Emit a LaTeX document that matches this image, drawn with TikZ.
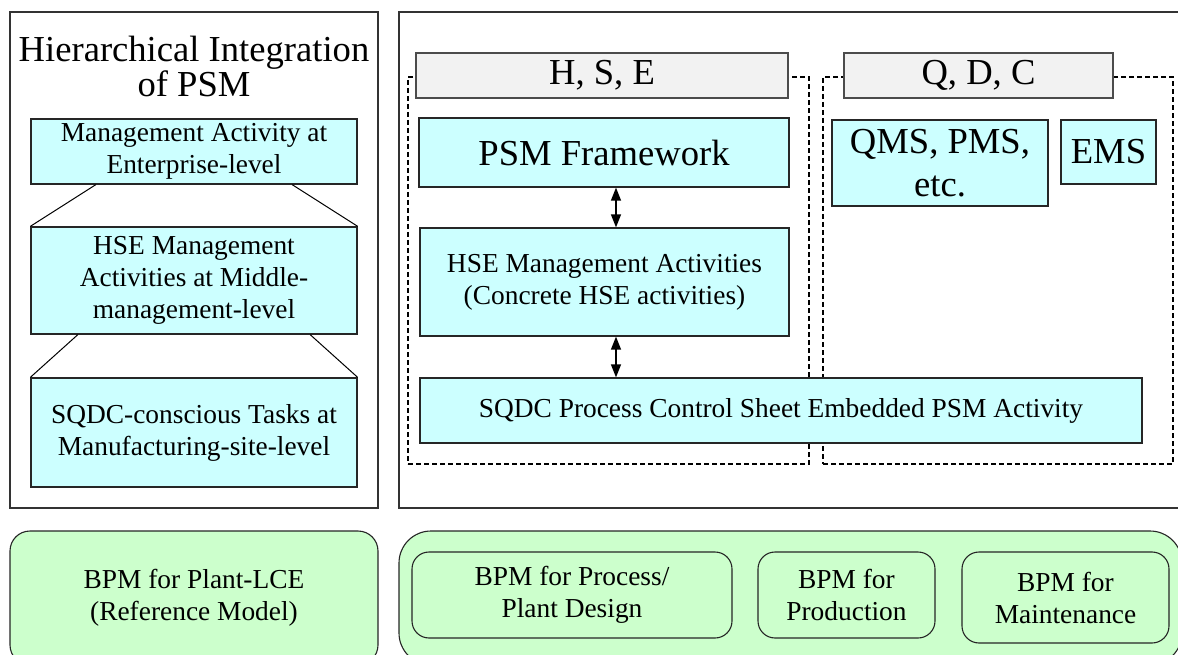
\documentclass[tikz,border=0pt]{standalone}
\usepackage{fontspec}
\setmainfont{Liberation Serif}
\usetikzlibrary{arrows.meta,calc}
\definecolor{cyanF}{HTML}{CCFFFF}
\definecolor{greenF}{HTML}{CCFFCC}
\definecolor{grayF}{HTML}{F2F2F2}
\newcommand\BigTxt{\fontsize{36.6}{35}\selectfont}
\newcommand\QmsTxt{\fontsize{36.6}{43}\selectfont}
\newcommand\SmTxt{\fontsize{27.4}{32}\selectfont}
\tikzset{
  outerbox/.style={draw=black!80, line width=1.1pt, inner sep=0pt},
  cbox/.style={draw=black!85, fill=cyanF, line width=1.3pt, inner sep=0pt, align=center, font=\SmTxt},
  cboxbig/.style={cbox, font=\BigTxt},
  labelbox/.style={draw=black!70, fill=grayF, line width=1.1pt, inner sep=0pt, align=center, font=\BigTxt},
  dashbox/.style={draw=black, line width=2pt, dash pattern=on 5pt off 3pt, inner sep=0pt},
  gbox/.style={draw=black!85, fill=greenF, line width=1.1pt, inner sep=0pt, align=center, font=\SmTxt},
  thinline/.style={draw=black, line width=1pt},
  dblarrow/.style={draw=black, line width=1.4pt, {Triangle[length=13pt,width=10pt]}-{Triangle[length=13pt,width=10pt]}}
}
\begin{document}
\begin{tikzpicture}[x=1pt,y=-1pt]
\useasboundingbox (0,0) rectangle (1178,655);
\clip (0,0) rectangle (1178,655);
% ---------- left column ----------
\node[outerbox, minimum width=368pt, minimum height=496pt] (lbox) at (194,260) {};
\node[font=\BigTxt, align=center, inner sep=0pt] (title) at (194,66) {Hierarchical Integration\\of PSM};
\node[cbox, minimum width=326pt, minimum height=65pt] (mae) at (194,151.5) {Management Activity at\\Enterprise-level};
\node[cbox, minimum width=326pt, minimum height=107pt] (hsel) at (194,280.5) {HSE Management\\Activities at Middle-\\management-level};
\node[cbox, minimum width=326pt, minimum height=109pt] (sqdcl) at (194,432.5) {SQDC-conscious Tasks at\\Manufacturing-site-level};
\draw[thinline] ($(mae.south west)!0.2!(mae.south east)$) -- (hsel.north west);
\draw[thinline] ($(mae.south west)!0.8!(mae.south east)$) -- (hsel.north east);
\draw[thinline] ($(hsel.south west)!0.145!(hsel.south east)$) -- (sqdcl.north west);
\draw[thinline] ($(hsel.south west)!0.855!(hsel.south east)$) -- (sqdcl.north east);
% ---------- right column ----------
\node[outerbox, minimum width=801pt, minimum height=496pt] (rbox) at (799.5,260) {};
\node[dashbox, minimum width=401pt, minimum height=387pt] (hsed) at (608.5,270.5) {};
\node[dashbox, minimum width=350pt, minimum height=387pt] (qdcd) at (998,270.5) {};
\node[labelbox, minimum width=372pt, minimum height=45pt] (hselab) at (602,75.5) {H, S, E};
\node[labelbox, minimum width=269pt, minimum height=45pt] (qdclab) at (978.5,75.5) {Q, D, C};
\node[cboxbig, minimum width=370pt, minimum height=69pt] (psm) at (604,152.5) {PSM Framework};
\node[cbox, minimum width=369pt, minimum height=108pt] (hsem) at (604.5,282) {HSE Management Activities\\(Concrete HSE activities)};
\node[cbox, minimum width=722pt, minimum height=65pt] (sqdcp) at (781,410.5) {SQDC Process Control Sheet Embedded PSM Activity};
\node[cbox, font=\QmsTxt, minimum width=216pt, minimum height=86pt] (qms) at (940,163) {QMS, PMS,\\etc.};
\node[cboxbig, minimum width=95pt, minimum height=64pt] (ems) at (1108.5,152) {EMS};
\draw[dblarrow] ([xshift=12pt]psm.south) -- ([xshift=11.5pt]hsem.north);
\draw[dblarrow] ([xshift=11.5pt]hsem.south) -- ([xshift=-165pt]sqdcp.north);
% ---------- bottom ----------
\node[gbox, rounded corners=20pt, minimum width=368pt, minimum height=134pt] (bpmref) at (194,598) {BPM for Plant-LCE\\(Reference Model)};
\node[gbox, rounded corners=32pt, minimum width=783pt, minimum height=134pt] (bpmall) at (790.5,598) {};
\node[gbox, rounded corners=17pt, minimum width=320pt, minimum height=86pt] (bpmdes) at (572,595) {BPM for Process/\\Plant Design};
\node[gbox, rounded corners=17pt, minimum width=177pt, minimum height=86pt] (bpmprod) at (846.5,595) {BPM for\\Production};
\node[gbox, rounded corners=17pt, minimum width=207pt, minimum height=91pt] (bpmmaint) at (1065.5,597.5) {BPM for\\Maintenance};
\end{tikzpicture}
\end{document}
